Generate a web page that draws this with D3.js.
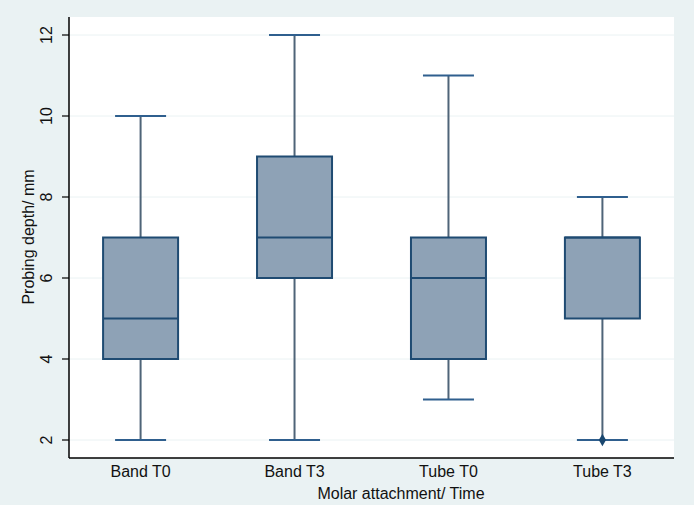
<!DOCTYPE html>
<meta charset="utf-8">
<style>
    body { margin: 0; background: #eaf2f3; }
    text { font-family: "Liberation Sans", Arial, sans-serif; fill: #111; }
</style>
<svg width="694" height="505"></svg>
<script src="https://d3js.org/d3.v7.min.js"></script>
<script>

    var categories = ["Band T0", "Band T3", "Tube T0", "Tube T3"];
    var lowWhisker = [2, 2, 3, 2];
    var q1 = [4, 6, 4, 5];
    var median = [5, 7, 6, 7];
    var q3 = [7, 9, 7, 7];
    var highWhisker = [10, 12, 11, 8];
    // outside values: [category index, value]
    var outliers = [[3, 2]];
    var yTicks = [2, 4, 6, 8, 10, 12];

    var svg = d3.select("svg");

    svg.append("rect").attr("width", 694).attr("height", 505).attr("fill", "#eaf2f3");

    var plotL = 69, plotR = 674, plotT = 17, plotB = 458;

    svg.append("rect")
        .attr("x", plotL).attr("y", plotT)
        .attr("width", plotR - plotL).attr("height", plotB - plotT)
        .attr("fill", "#fff");

    var x = d3.scalePoint().domain(categories).range([plotL, plotR]).padding(0.465);
    var y = d3.scaleLinear().domain([2, 12]).range([440, 35]);

    var boxW = 75, capW = 51;

    // grid
    svg.append("g").selectAll("line").data(yTicks).enter().append("line")
        .attr("x1", plotL).attr("x2", plotR)
        .attr("y1", function (d) { return y(d); })
        .attr("y2", function (d) { return y(d); })
        .attr("stroke", "#eaf2f3").attr("stroke-width", 1);

    var data = categories.map(function (c, i) {
        return {name: c, lo: lowWhisker[i], q1: q1[i], med: median[i], q3: q3[i], hi: highWhisker[i]};
    });

    var g = svg.append("g").selectAll("g").data(data).enter().append("g")
        .attr("transform", function (d) { return "translate(" + x(d.name) + ",0)"; });

    // whiskers
    g.append("line").attr("x1", 0).attr("x2", 0)
        .attr("y1", function (d) { return y(d.q3); })
        .attr("y2", function (d) { return y(d.hi); })
        .attr("stroke", "#4f6478").attr("stroke-width", 2);
    g.append("line").attr("x1", 0).attr("x2", 0)
        .attr("y1", function (d) { return y(d.q1); })
        .attr("y2", function (d) { return y(d.lo); })
        .attr("stroke", "#4f6478").attr("stroke-width", 2);

    // caps
    g.selectAll(".cap").data(function (d) { return [d.lo, d.hi]; }).enter().append("line")
        .attr("class", "cap")
        .attr("x1", -capW / 2).attr("x2", capW / 2)
        .attr("y1", function (v) { return y(v); })
        .attr("y2", function (v) { return y(v); })
        .attr("stroke", "#2f5f8e").attr("stroke-width", 2);

    // boxes
    g.append("rect")
        .attr("x", -boxW / 2).attr("width", boxW)
        .attr("y", function (d) { return y(d.q3); })
        .attr("height", function (d) { return y(d.q1) - y(d.q3); })
        .attr("fill", "#8ea2b6").attr("stroke", "#1f4b72").attr("stroke-width", 2);

    g.append("line")
        .attr("x1", -boxW / 2).attr("x2", boxW / 2)
        .attr("y1", function (d) { return y(d.med); })
        .attr("y2", function (d) { return y(d.med); })
        .attr("stroke", "#1f4b72").attr("stroke-width", 2);

    // outside values
    svg.append("g").selectAll("path").data(outliers).enter().append("path")
        .attr("d", d3.symbol().type(d3.symbolDiamond).size(45))
        .attr("transform", function (d) {
            return "translate(" + x(categories[d[0]]) + "," + y(d[1]) + ")";
        })
        .attr("fill", "#1a476f");

    // y axis
    svg.append("line").attr("x1", plotL).attr("x2", plotL).attr("y1", plotT).attr("y2", plotB)
        .attr("stroke", "#000").attr("stroke-width", 1.5);
    svg.append("g").selectAll("line").data(yTicks).enter().append("line")
        .attr("x1", plotL - 7).attr("x2", plotL)
        .attr("y1", function (d) { return y(d); })
        .attr("y2", function (d) { return y(d); })
        .attr("stroke", "#000").attr("stroke-width", 1.2);
    svg.append("g").selectAll("text").data(yTicks).enter().append("text")
        .attr("transform", function (d) { return "translate(52," + y(d) + ") rotate(-90)"; })
        .attr("text-anchor", "middle")
        .attr("font-size", 16)
        .text(function (d) { return d; });

    // x axis
    svg.append("line").attr("x1", plotL).attr("x2", plotR).attr("y1", plotB).attr("y2", plotB)
        .attr("stroke", "#000").attr("stroke-width", 1.5);
    svg.append("g").selectAll("text").data(categories).enter().append("text")
        .attr("x", function (d) { return x(d); })
        .attr("y", 477)
        .attr("text-anchor", "middle")
        .attr("font-size", 16)
        .text(function (d) { return d; });

    svg.append("text")
        .attr("x", 401).attr("y", 499)
        .attr("text-anchor", "middle")
        .attr("font-size", 16)
        .text("Molar attachment/ Time");

    svg.append("text")
        .attr("transform", "translate(34,237) rotate(-90)")
        .attr("text-anchor", "middle")
        .attr("font-size", 16)
        .text("Probing depth/ mm");

</script>
